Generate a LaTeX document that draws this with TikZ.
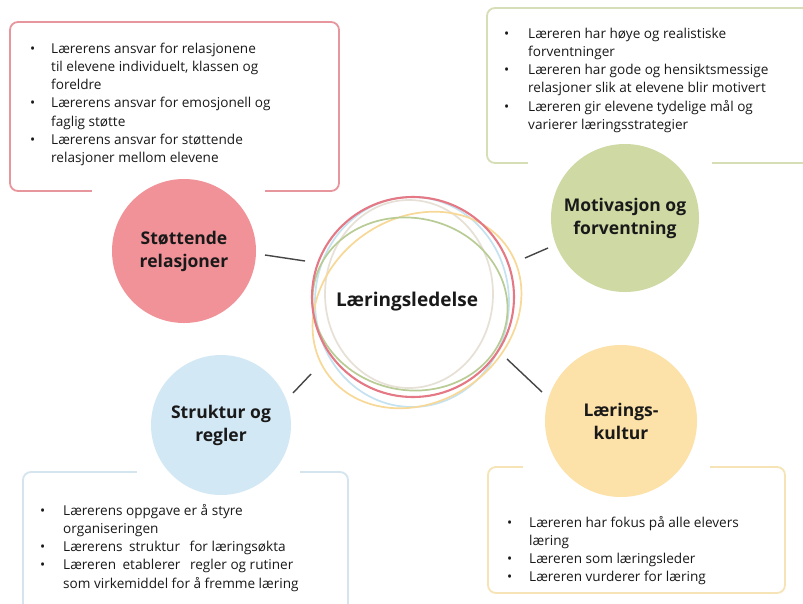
\documentclass[tikz,border=0pt]{standalone}
\usepackage{fontspec}
\setmainfont{Open Sans}
\definecolor{txt}{RGB}{25,25,25}
\definecolor{linkc}{RGB}{70,70,70}
\definecolor{pinkf}{RGB}{240,146,152}
\definecolor{greenf}{RGB}{206,217,163}
\definecolor{bluef}{RGB}{211,232,245}
\definecolor{yellowf}{RGB}{252,225,168}
\definecolor{pinkb}{RGB}{232,150,158}
\definecolor{greenb}{RGB}{214,222,182}
\definecolor{blueb}{RGB}{212,229,240}
\definecolor{yellowb}{RGB}{246,228,182}
\definecolor{ringred}{RGB}{228,120,132}
\definecolor{ringbeige}{RGB}{230,224,214}
\definecolor{ringblue}{RGB}{196,226,240}
\definecolor{ringyellow}{RGB}{248,216,150}
\definecolor{ringgreen}{RGB}{185,204,150}
\newcommand\bl[1]{\makebox[#1][l]{•}}
\begin{document}
\begin{tikzpicture}[x=1pt,y=-1pt,
  infobox/.style={line width=1.8pt, rounded corners=8pt},
  gapbox/.style={fill=white, draw=none},
  topic/.style={circle, inner sep=0pt, align=center, font=\fontsize{17.5}{23}\selectfont\bfseries, text=txt},
  listnode/.style={anchor=base west, inner sep=0pt, font=\fontsize{13.6}{18.3}\selectfont, text=txt},
  link/.style={draw=linkc, line width=1.4pt},
  ring/.style={line width=1.7pt}]
\useasboundingbox (0,0) rectangle (803,603);
\clip (0,0) rectangle (803,603);
\fill[white] (0,0) rectangle (803,603);

% boxes
\draw[infobox, draw=pinkb] (10,22) rectangle (339,191);
\draw[infobox, draw=greenb] (487,8) rectangle (815,163);
\draw[infobox, draw=blueb] (23,472) rectangle (348,615);
\draw[infobox, draw=yellowb] (488,467) rectangle (785,593);

% gaps
\fill[gapbox] (92,183) rectangle (265,199);
\fill[gapbox] (528,155) rectangle (712,171);
\fill[gapbox] (137,464) rectangle (300,480);
\fill[gapbox] (523,459) rectangle (710,475);

% topic circles
\node[topic, fill=pinkf, minimum size=144pt] (rel) at (184,251) {Støttende\\relasjoner};
\node[topic, fill=greenf, minimum size=148pt] (mot) at (625,218) {Motivasjon og\\forventning};
\node[topic, fill=bluef, minimum size=140pt] (str) at (221,425) {Struktur og\\regler};
\node[topic, fill=yellowf, minimum size=152pt] (kul) at (621,421) {Lærings-\\kultur};

% central rings
\draw[ring, draw=ringbeige] (409,294) ellipse [x radius=84pt, y radius=94pt];
\draw[ring, draw=ringblue] (412,302) ellipse [x radius=97pt, y radius=105pt];
\draw[ring, draw=ringyellow, rotate around={35:(417,310)}] (417,310) ellipse [x radius=110pt, y radius=92pt];
\draw[ring, draw=ringgreen, rotate around={-12:(410,304)}] (410,304) ellipse [x radius=98pt, y radius=86pt];
\draw[ring, draw=ringred, line width=2.1pt] (413,297) ellipse [x radius=101pt, y radius=100pt];
\node[font=\fontsize{19}{22}\selectfont\bfseries, text=txt] (lead) at (407,302) {Læringsledelse};

% connectors
\coordinate (c1a) at (265,255); \coordinate (c1b) at (305,261);
\coordinate (c2a) at (525,258); \coordinate (c2b) at (548,248);
\coordinate (c3a) at (293,393); \coordinate (c3b) at (311,374);
\coordinate (c4a) at (507,359); \coordinate (c4b) at (542,392);
\draw[link] (c1a) -- (c1b);
\draw[link] (c2a) -- (c2b);
\draw[link] (c3a) -- (c3b);
\draw[link] (c4a) -- (c4b);

% lists
\node[listnode] (relList) at (30,53) {\begin{tabular}[t]{@{}l@{}l@{}}
\bl{21pt} & Lærerens ansvar for relasjonene\\
 & til elevene individuelt, klassen og\\
 & foreldre\\
\bl{21pt} & Lærerens ansvar for emosjonell og\\
 & faglig støtte\\
\bl{21pt} & Lærerens ansvar for støttende\\
 & relasjoner mellom elevene
\end{tabular}};
\node[listnode] (motList) at (504,38) {\begin{tabular}[t]{@{}l@{}l@{}}
\bl{24pt} & Læreren har høye og realistiske\\
 & forventninger\\
\bl{24pt} & Læreren har gode og hensiktsmessige\\
 & relasjoner slik at elevene blir motivert\\
\bl{24pt} & Læreren gir elevene tydelige mål og\\
 & varierer læringsstrategier
\end{tabular}};
\node[listnode] (strList) at (40,515) {\begin{tabular}[t]{@{}l@{}l@{}}
\bl{23pt} & Lærerens oppgave er å styre\\
 & organiseringen\\
\bl{23pt} & Lærerens\hspace{3pt} struktur\hspace{6pt} for læringsøkta\\
\bl{23pt} & Læreren\hspace{3pt} etablerer\hspace{6pt} regler og rutiner\\
 & som virkemiddel for å fremme læring
\end{tabular}};
\node[listnode] (kulList) at (507,527) {\begin{tabular}[t]{@{}l@{}l@{}}
\bl{22pt} & Læreren har fokus på alle elevers\\
 & læring\\
\bl{22pt} & Læreren som læringsleder\\
\bl{22pt} & Læreren vurderer for læring
\end{tabular}};
\end{tikzpicture}
\end{document}
